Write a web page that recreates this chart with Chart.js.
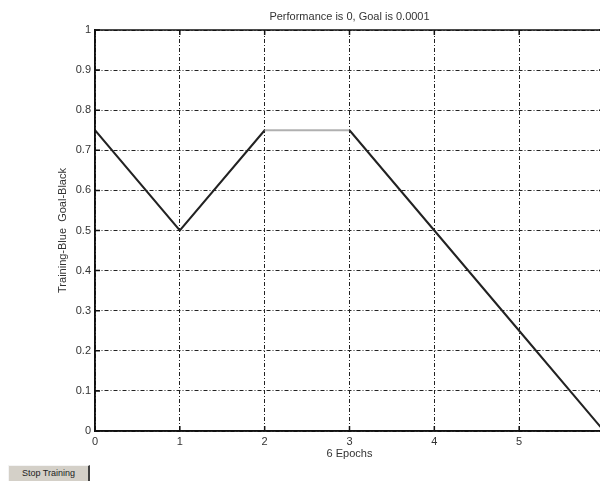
<!DOCTYPE html>
<html><head><meta charset="utf-8">
<script src="https://cdn.jsdelivr.net/npm/chart.js@4/dist/chart.umd.min.js"></script>
<style>
html,body{margin:0;padding:0;background:#fff;overflow:hidden;width:600px;height:481px;}
#wrap{position:absolute;left:0;top:0;width:620px;height:481px;}
#btn{position:absolute;left:8px;top:465px;width:82px;height:20px;background:#d4d0c8;border-top:1px solid #f4f4f4;border-left:1px solid #f4f4f4;border-right:2px solid #404040;border-bottom:2px solid #404040;box-sizing:border-box;font:9px "Liberation Sans",Arial,sans-serif;color:#222;text-align:center;line-height:14px;}
</style></head><body>
<div id="wrap"><canvas id="c" width="620" height="481"></canvas></div>
<div id="btn">Stop Training</div>
<script>
const epochs = [0, 1, 2, 3, 4, 5, 6];
const training = [0.75, 0.5, 0.75, 0.75, 0.5, 0.25, 0];
const xTicks = [0, 1, 2, 3, 4, 5, 6];
const yTicks = [0, 0.1, 0.2, 0.3, 0.4, 0.5, 0.6, 0.7, 0.8, 0.9, 1];
const titleText = 'Performance is 0, Goal is 0.0001';
const xTitle = '6 Epochs';
const yTitle = 'Training-Blue  Goal-Black';

const FONT = {family: '"Liberation Sans", Arial, sans-serif', size: 11};
const TXT = '#333';

const boxPlugin = {
  id: 'box',
  afterDraw(chart) {
    const {ctx, chartArea: a, scales} = chart;
    ctx.save();
    ctx.strokeStyle = '#111';
    ctx.lineWidth = 1.5;
    ctx.setLineDash([]);
    ctx.strokeRect(a.left, a.top, a.right - a.left, a.bottom - a.top);
    ctx.beginPath();
    xTicks.forEach(v => {
      const x = scales.x.getPixelForValue(v);
      ctx.moveTo(x, a.bottom); ctx.lineTo(x, a.bottom - 5);
      ctx.moveTo(x, a.top); ctx.lineTo(x, a.top + 5);
    });
    yTicks.forEach(v => {
      const y = scales.y.getPixelForValue(v);
      ctx.moveTo(a.left, y); ctx.lineTo(a.left + 5, y);
      ctx.moveTo(a.right, y); ctx.lineTo(a.right - 5, y);
    });
    ctx.stroke();
    ctx.restore();
  }
};

new Chart(document.getElementById('c'), {
  type: 'line',
  data: {
    datasets: [{
      data: epochs.map((e, i) => ({x: e, y: training[i]})),
      borderColor: '#222',
      borderWidth: 2,
      pointRadius: 0,
      tension: 0,
      fill: false,
      segment: {
        borderColor: c => c.p0DataIndex === 2 ? '#b0b0b0' : '#222'
      }
    }]
  },
  options: {
    responsive: false,
    animation: false,
    layout: {padding: {left: 0, right: 16, top: 0, bottom: 0}},
    plugins: {
      legend: {display: false},
      tooltip: {enabled: false},
      title: {display: false}
    },
    scales: {
      x: {
        type: 'linear', min: 0, max: 6,
        afterBuildTicks: s => { s.ticks = xTicks.map(v => ({value: v})); },
        afterFit: s => { s.height = 50; },
        ticks: {color: TXT, font: FONT, padding: 4, maxRotation: 0, callback: v => String(v)},
        grid: {color: '#222', lineWidth: 1, drawTicks: false},
        border: {display: true, color: '#111', width: 1.5, dash: [4, 2, 1, 2]},
        title: {display: true, text: xTitle, color: TXT, font: FONT, padding: {top: 0, bottom: 20}}
      },
      xTop: {
        type: 'linear', position: 'top', min: 0, max: 6,
        afterFit: s => { s.height = 30; },
        ticks: {display: false},
        grid: {display: false, drawTicks: false},
        border: {display: false},
        title: {display: true, text: titleText, color: TXT, font: FONT, padding: {top: 10.5, bottom: 0}}
      },
      y: {
        type: 'linear', min: 0, max: 1,
        afterBuildTicks: s => { s.ticks = yTicks.map(v => ({value: v})); },
        afterFit: s => { s.width = 95; },
        ticks: {color: TXT, font: FONT, padding: 4, callback: v => String(v)},
        grid: {color: '#222', lineWidth: 1, drawTicks: false},
        border: {display: true, color: '#111', width: 1.5, dash: [4, 2, 1, 2]},
        title: {display: true, text: yTitle, color: TXT, font: FONT, padding: {top: 56, bottom: 0}}
      }
    }
  },
  plugins: [boxPlugin]
});
</script>
</body></html>
